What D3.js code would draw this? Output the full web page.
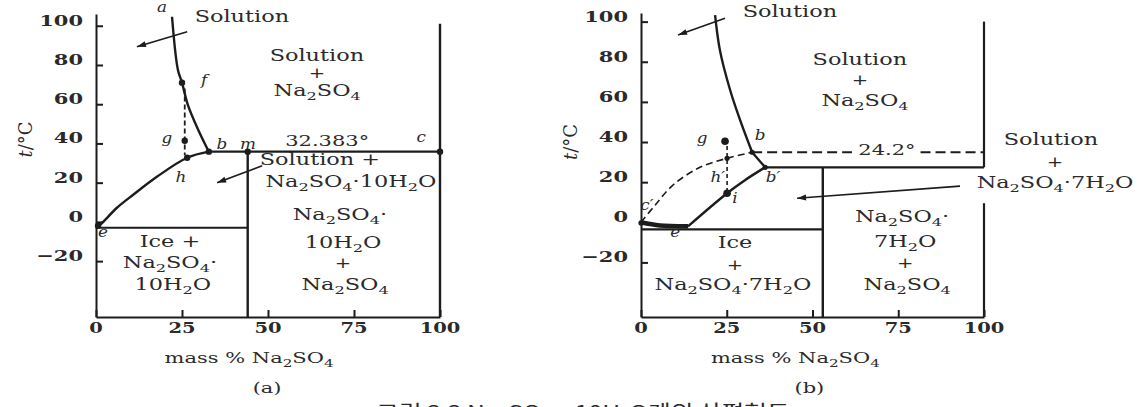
<!DOCTYPE html>
<html><head><meta charset="utf-8">
<script src="https://cdn.jsdelivr.net/npm/d3@7"></script>
<style>body{margin:0;background:#fff}svg{display:block}</style>
</head><body>
<svg id="c" width="1147" height="407"></svg>
<script>
// ---------- data ----------
const Y_TICKS = [100, 80, 60, 40, 20, 0, -20];
const Y_TICK_LABELS = ["100", "80", "60", "40", "20", "0", "\u221220"];
const X_TICKS = [0, 25, 50, 75, 100];
const X_TICK_LABELS = ["0", "25", "50", "75", "100"];

// panel (a): Na2SO4 - H2O with decahydrate
const A_SOLUBILITY = [[22.1,104.6],[23.8,77.6],[25,71],[26.7,59.7],[29.7,47],[32.8,35.8]];
const A_DECA_CURVE = [[0,-3],[1.2,-1.5],[6.1,7.2],[10.8,13.8],[17.7,23],[26.5,32.7],[32.8,35.8]];
const A_TRANSITION_T = 35.8;      // drawn "32.383°" line
const A_EUTECTIC_T = -3;
const A_HYDRATE_X = 44.1;
const A_ISOPLETH = [[25.8,68],[25.8,34]];
const A_POINTS = [[25,71],[25.8,41.4],[26.5,32.7],[44.1,35.8],[100,35.8],[32.8,35.8],[0.6,-2]];
const A_LETTERS = [["a",19.2,107.2],["f",31.4,69.9],["g",20.6,40.3],["h",24.7,20.4],["b",36.6,37.3],["m",44.2,37.3],["c",94.5,40.8],["e",2,-7.6]];

// panel (b): with heptahydrate (metastable)
const B_SOLUBILITY = [[21.6,103.2],[23,85.8],[26,65.8],[28.9,50.9],[32.4,34.9]];
const B_META_CURVE = [[0,0],[4.1,8.5],[9.3,18.5],[17.2,27.4],[25.1,31.9],[32.4,34.9]];
const B_HEPTA_CURVE = [[13.7,-2],[25.1,14.5],[30.3,21],[36.2,27.4]];
const B_ICE_CURVE = [[0,0],[5.5,-1.6],[13.7,-2]];
const B_BB = [[32.4,34.9],[36.2,27.4]];
const B_META_T = 34.9;            // dashed "24.2°" line
const B_TRANSITION_T = 27.4;
const B_EUTECTIC_T = -3.5;
const B_HYDRATE_X = 53;
const B_ISOPLETH = [[25.1,38],[25.1,14.5]];
const B_BIG_POINTS = [[24.5,40.4],[25.1,14.5]];
const B_SMALL_POINTS = [[25.1,31.9],[32.4,34.9],[36.2,27.4],[0,-0.3]];
const B_LETTERS = [["g",17.8,39.4],["b",34.7,40.9],["b\u2032",38.5,20],["h\u2032",22.4,20],["i",27.4,9.5],["c\u2032",1.7,6],["e\u2032",10.5,-7.5]];

// ---------- setup ----------
const svg = d3.select("#c");
svg.append("rect").attr("width",1147).attr("height",407).attr("fill","#fff");
const INK = "#1c1c1c", TXT = "#2a2a2a";
const SERIF = "'DejaVu Serif', serif";
const SX = 1.4;

function label(g, x, y, str, o = {}) {
  const size = o.size || 16, sx = o.sx || SX;
  const t = g.append("text")
    .attr("transform", `translate(${x},${y}) scale(${sx},1)`)
    .attr("text-anchor", o.anchor || "middle")
    .attr("dy", "0.35em")
    .attr("font-family", o.family || SERIF)
    .attr("font-size", size)
    .attr("font-style", o.italic ? "italic" : "normal")
    .attr("font-weight", o.weight || "normal")
    .attr("fill", TXT);
  const parts = str.split(/(_\d)/).filter(p => p.length);
  let lowered = false;
  parts.forEach(p => {
    if (p[0] === "_") {
      t.append("tspan").attr("font-size", size * 0.72).attr("dy", lowered ? 0 : 4).text(p.slice(1));
      lowered = true;
    } else {
      t.append("tspan").attr("dy", lowered ? -4 : 0).text(p);
      lowered = false;
    }
  });
  return t;
}

function panel(cfg) {
  const g = svg.append("g");
  const x = d3.scaleLinear().domain([0,100]).range(cfg.xr);
  const y = d3.scaleLinear().domain(cfg.yd).range([317, cfg.top]);
  const line = d3.line().x(d => x(d[0])).y(d => y(d[1]));
  const curve = d3.line().x(d => x(d[0])).y(d => y(d[1])).curve(d3.curveCatmullRom.alpha(0.5));

  const ay = g.append("g").attr("transform", `translate(${x(0)},0)`)
    .call(d3.axisLeft(y).tickValues(Y_TICKS).tickSizeInner(-7).tickSizeOuter(0).tickFormat(""));
  const ax = g.append("g").attr("transform", `translate(0,317)`)
    .call(d3.axisBottom(x).tickValues(X_TICKS).tickSizeInner(-7).tickSizeOuter(0).tickFormat(""));
  [ay, ax].forEach(a => {
    a.selectAll("path,line").attr("stroke", INK).attr("stroke-width", 2);
  });
  Y_TICKS.forEach((v,i) => label(g, x(0) - 13, y(v), Y_TICK_LABELS[i], {anchor:"end", size:15, weight:"bold"}));
  X_TICKS.forEach((v,i) => label(g, x(v), 333, X_TICK_LABELS[i], {size:15, weight:"bold", sx:1.3}));

  label(g, x(cfg.xlabelAt), 363, "mass % Na_2SO_4", {size:15});
  label(g, x(cfg.xlabelAt) + cfg.capDx, 393, cfg.cap, {size:15});

  const yt = g.append("text")
    .attr("transform", `translate(${x(0) - 70},${y(cfg.ytAt)}) rotate(-90)`)
    .attr("text-anchor","middle").attr("dy","0.35em")
    .attr("font-family", SERIF).attr("font-size", 18).attr("fill", TXT);
  yt.append("tspan").attr("font-style","italic").text("t");
  yt.append("tspan").text("/\u00B0C");

  return {g, x, y, line, curve};
}

function path(p, d, w, dash) {
  p.g.append("path").attr("d", d).attr("fill","none").attr("stroke", INK)
    .attr("stroke-width", w).attr("stroke-dasharray", dash || null)
    .attr("stroke-linecap","butt");
}
function arrow(p, x1, y1, x2, y2) {
  const X1 = p.x(x1), Y1 = p.y(y1), X2 = p.x(x2), Y2 = p.y(y2);
  p.g.append("line").attr("x1",X1).attr("y1",Y1).attr("x2",X2).attr("y2",Y2)
    .attr("stroke", INK).attr("stroke-width", 1.6);
  const a = Math.atan2(Y2-Y1, X2-X1), L = 9, W = 3;
  const pts = [[X2,Y2],[X2 - L*Math.cos(a) + W*Math.sin(a), Y2 - L*Math.sin(a) - W*Math.cos(a)],
               [X2 - L*Math.cos(a) - W*Math.sin(a), Y2 - L*Math.sin(a) + W*Math.cos(a)]];
  p.g.append("polygon").attr("points", pts.map(q => q.join(",")).join(" ")).attr("fill", INK);
}

// ---------- panel (a) ----------
const A = panel({xr:[96,440], yd:[-48.5,106], top:14, xlabelAt:44.5, cap:"(a)", capDx:18, ytAt:42});
{
  const {line, curve, x, y} = A;
  const yBottom = -48.5;
  path(A, curve(A_SOLUBILITY), 2.4);
  path(A, curve(A_DECA_CURVE), 2.4);
  path(A, line([[A_SOLUBILITY[5][0], A_TRANSITION_T],[100, A_TRANSITION_T]]), 2.2);
  path(A, line([[0, A_EUTECTIC_T],[A_HYDRATE_X, A_EUTECTIC_T]]), 2.2);
  path(A, line([[A_HYDRATE_X, A_TRANSITION_T],[A_HYDRATE_X, yBottom]]), 2.4);
  path(A, line([[100, 101],[100, yBottom]]), 2.4);
  path(A, line(A_ISOPLETH), 1.8, "5,3");
  A.g.selectAll(".pt").data(A_POINTS).join("circle")
    .attr("cx", d => x(d[0])).attr("cy", d => y(d[1])).attr("r", 3.2).attr("fill", INK);
  A_LETTERS.forEach(l => label(A.g, x(l[1]), y(l[2]), l[0], {italic:true, size:14, sx:1.2}));

  label(A.g, x(42.4), y(102), "Solution");
  arrow(A, 26.5, 96.9, 11.9, 89.3);
  label(A.g, x(64.2), y(82), "Solution");
  label(A.g, x(64.2), y(73.2), "+", {size:14});
  label(A.g, x(64.3), y(64), "Na_2SO_4");
  label(A.g, x(67.2), y(38.8), "32.383\u00B0", {size:15});
  label(A.g, x(65.1), y(29.1), "Solution +");
  label(A.g, x(74.1), y(17.9), "Na_2SO_4\u00B710H_2O");
  arrow(A, 48.3, 28.6, 35.2, 19.9);
  label(A.g, x(70.9), y(1.1), "Na_2SO_4\u00B7");
  label(A.g, x(71.8), y(-13.2), "10H_2O");
  label(A.g, x(71.8), y(-23.4), "+", {size:14});
  label(A.g, x(72.4), y(-34.6), "Na_2SO_4");
  label(A.g, x(21.5), y(-12.7), "Ice +");
  label(A.g, x(21.5), y(-23.4), "Na_2SO_4\u00B7");
  label(A.g, x(22.3), y(-34.6), "10H_2O");
}

// ---------- panel (b) ----------
const B = panel({xr:[641,984], yd:[-47.2,104.3], top:13, xlabelAt:45, cap:"(b)", capDx:14, ytAt:40});
{
  const {line, curve, x, y} = B;
  const yBottom = -47.2;
  path(B, curve(B_SOLUBILITY), 2.4);
  path(B, line(B_BB), 2.4);
  path(B, curve(B_HEPTA_CURVE), 2.4);
  path(B, curve(B_ICE_CURVE), 4.5);
  path(B, curve(B_META_CURVE), 1.6, "7,4");
  path(B, line([[B_BB[0][0], B_META_T],[61.5, B_META_T]]), 1.8, "10,5");
  path(B, line([[81.5, B_META_T],[100, B_META_T]]), 1.8, "10,5");
  path(B, line([[B_BB[1][0], B_TRANSITION_T],[100, B_TRANSITION_T]]), 2.2);
  path(B, line([[0, B_EUTECTIC_T],[B_HYDRATE_X, B_EUTECTIC_T]]), 2.2);
  path(B, line([[B_HYDRATE_X, B_TRANSITION_T],[B_HYDRATE_X, yBottom]]), 2.4);
  path(B, line([[100, 100],[100, B_TRANSITION_T]]), 2.2);
  path(B, line([[100, 9.5],[100, yBottom]]), 2.2);
  path(B, line(B_ISOPLETH), 1.6, "4,3");
  B.g.selectAll(".bp").data(B_BIG_POINTS).join("circle")
    .attr("cx", d => x(d[0])).attr("cy", d => y(d[1])).attr("r", 3.8).attr("fill", INK);
  B.g.selectAll(".sp").data(B_SMALL_POINTS).join("circle")
    .attr("cx", d => x(d[0])).attr("cy", d => y(d[1])).attr("r", 2.6).attr("fill", INK);
  B_LETTERS.forEach(l => label(B.g, x(l[1]), y(l[2]), l[0], {italic:true, size:14, sx:1.2}));

  label(B.g, x(43.4), y(102.2), "Solution");
  arrow(B, 24.5, 101.7, 10.8, 93.3);
  label(B.g, x(63.8), y(78.6), "Solution");
  label(B.g, x(63.8), y(68.3), "+", {size:14});
  label(B.g, x(65.3), y(58.2), "Na_2SO_4");
  label(B.g, x(71.7), y(33.4), "24.2\u00B0", {size:15});
  label(B.g, x(119.5), y(38.4), "Solution");
  label(B.g, x(120.7), y(27.4), "+", {size:14});
  label(B.g, x(120.7), y(17), "Na_2SO_4\u00B77H_2O");
  arrow(B, 93, 18, 45.5, 12);
  label(B.g, x(76.1), y(0), "Na_2SO_4\u00B7");
  label(B.g, x(77), y(-12.5), "7H_2O");
  label(B.g, x(77), y(-23), "+", {size:14});
  label(B.g, x(77.6), y(-33.9), "Na_2SO_4");
  label(B.g, x(27.4), y(-13), "Ice");
  label(B.g, x(27.4), y(-23.9), "+", {size:14});
  label(B.g, x(26.8), y(-33.9), "Na_2SO_4\u00B77H_2O");
}

// ---------- caption (cut off at the bottom edge, as in the reference) ----------
const cap = svg.append("text").attr("transform", "translate(583,419) scale(1.3,1)").attr("text-anchor","middle")
  .attr("font-family","'Noto Sans CJK KR', sans-serif").attr("font-size", 19).attr("fill", TXT);
cap.append("tspan").text("그림 3.3 Na");
cap.append("tspan").attr("font-size",13).attr("dy",3).text("2");
cap.append("tspan").attr("dy",-3).text("SO");
cap.append("tspan").attr("font-size",13).attr("dy",3).text("4");
cap.append("tspan").attr("dy",-3).text(" \u2013 10H");
cap.append("tspan").attr("font-size",13).attr("dy",3).text("2");
cap.append("tspan").attr("dy",-3).text("O계의 상평형도");
</script>
</body></html>
